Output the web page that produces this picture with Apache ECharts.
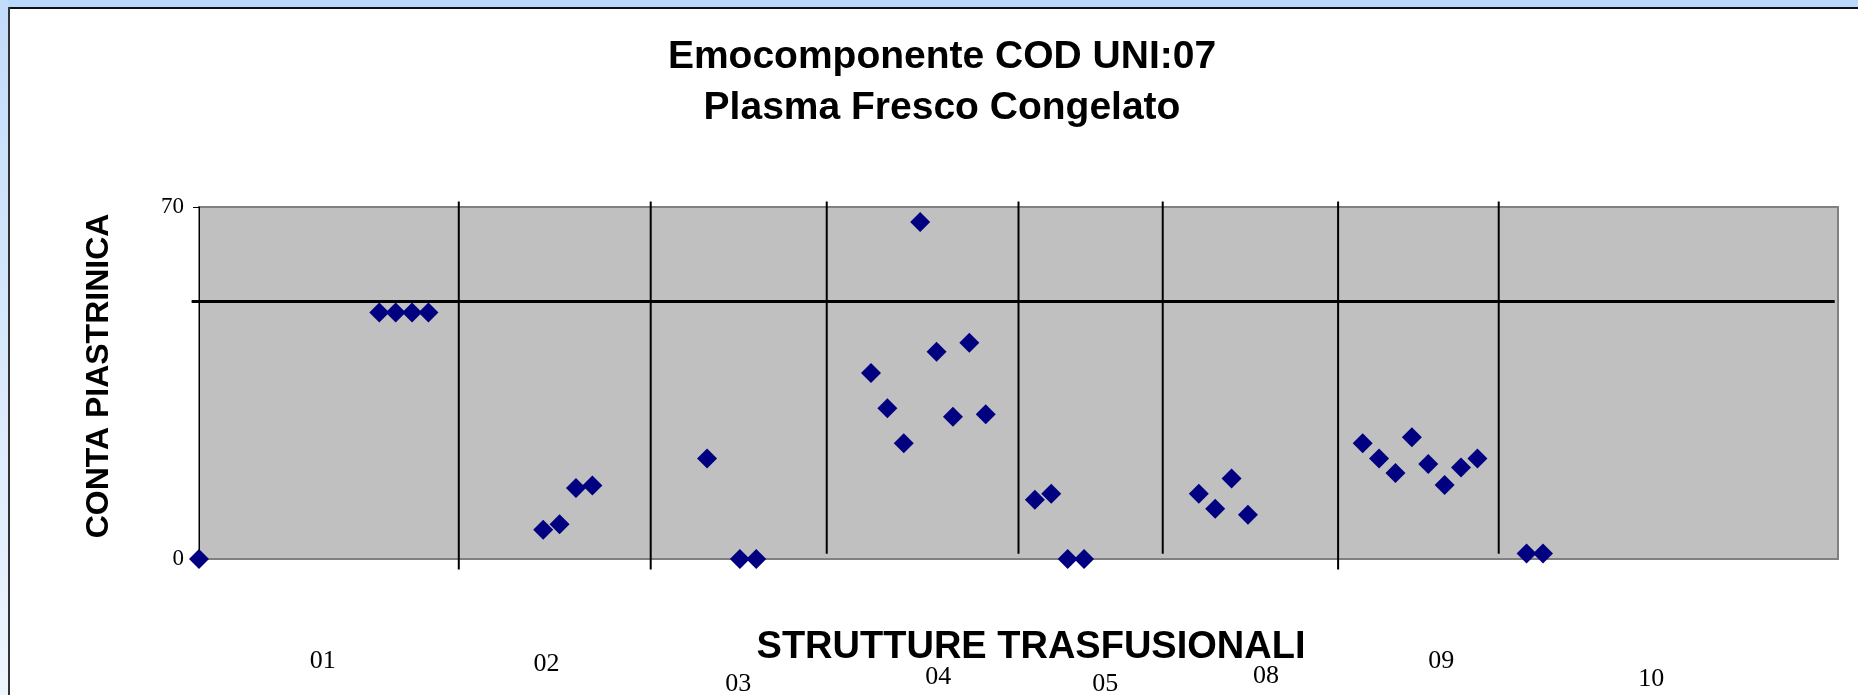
<!DOCTYPE html>
<html>
<head>
<meta charset="utf-8">
<script src="https://cdn.jsdelivr.net/npm/echarts@6/dist/echarts.min.js"></script>
<style>
  html, body { margin: 0; padding: 0; background: #fff; }
  #chart { width: 1858px; height: 695px; }
</style>
</head>
<body>
<div id="chart"></div>
<script>
// data
const groups = ['01', '02', '03', '04', '05', '08', '09', '10'];
const pointIndex = [0, 11, 12, 13, 14, 21, 22, 23, 24, 31, 33, 34,
  41, 42, 43, 44, 45, 46, 47, 48, 51, 52, 53, 54, 61, 62, 63, 64,
  71, 72, 73, 74, 75, 76, 77, 78, 81, 82];
const platelets = [0, 49, 49, 49, 49, 5.8, 6.9, 14.1, 14.6, 20, 0, 0,
  37, 30, 23, 67, 41.2, 28.3, 43, 28.8, 11.8, 13, 0, 0, 13, 10, 16, 8.8,
  23, 20, 17.1, 24.2, 18.9, 14.7, 18.2, 20, 1.1, 1.1];
const yTicks = [0, 70];
const threshold = 51.2;
// group separators: x (point index), from, to (value units)
const separators = [[15.85, -2.1, 71.1], [27.56, -2.1, 71.1], [38.3, 1.05, 71.1],
  [50.0, 1.05, 71.1], [58.8, 1.05, 71.1], [69.5, -2.1, 71.1], [79.3, 1.05, 71.1]];

// where the group names sit under the plot (x index, y value units)
const labelAnchor = [[7.55, -20.3], [21.2, -20.9], [32.9, -24.8], [45.1, -23.5],
  [55.3, -24.8], [65.1, -23.3], [75.8, -20.4], [88.6, -23.9]];

var myChart = echarts.init(document.getElementById('chart'));

var option = {
  animation: false,
  backgroundColor: '#fff',
  grid: {
    left: 199, top: 207, width: 1639, height: 352,
    show: true,
    backgroundColor: '#C0C0C0',
    borderColor: '#808080',
    borderWidth: 2
  },
  xAxis: {
    type: 'value', min: 0, max: 100,
    axisLine: { show: false },
    axisTick: { show: false },
    axisLabel: { show: false },
    splitLine: { show: false }
  },
  yAxis: {
    type: 'value',
    min: yTicks[0], max: yTicks[1], interval: yTicks[1] - yTicks[0],
    axisLine: { show: true, lineStyle: { color: '#000', width: 1 } },
    axisTick: { show: true, length: 6, lineStyle: { color: '#000' } },
    splitLine: { show: false },
    axisLabel: {
      margin: 15,
      color: '#000',
      fontFamily: 'Liberation Serif',
      fontSize: 23
    }
  },
  series: [
    {
      // vertical separators between the structures
      type: 'custom',
      z: 3,
      silent: true,
      clip: false,
      data: separators,
      renderItem: function (params, api) {
        var a = api.coord([api.value(0), api.value(1)]);
        var b = api.coord([api.value(0), api.value(2)]);
        return {
          type: 'line',
          shape: { x1: a[0], y1: a[1], x2: b[0], y2: b[1] },
          style: { stroke: '#000', lineWidth: 2 }
        };
      }
    },
    {
      // reference line
      type: 'custom',
      z: 3,
      silent: true,
      clip: false,
      data: [[-0.45, 99.8, threshold]],
      renderItem: function (params, api) {
        var a = api.coord([api.value(0), api.value(2)]);
        var b = api.coord([api.value(1), api.value(2)]);
        return {
          type: 'line',
          shape: { x1: a[0], y1: a[1], x2: b[0], y2: b[1] },
          style: { stroke: '#000', lineWidth: 3 }
        };
      }
    },
    {
      type: 'scatter',
      z: 5,
      clip: false,
      symbol: 'diamond',
      symbolSize: 20,
      itemStyle: { color: '#000080', opacity: 1 },
      data: pointIndex.map((x, i) => [x, platelets[i]])
    }
  ]
};
myChart.setOption(option);

// frame, titles and group names
var graphics = [
  { type: 'rect', shape: { x: 0, y: 0, width: 1858, height: 7 }, style: { fill: '#B9DAFD' }, z: 10 },
  {
    type: 'rect', shape: { x: 0, y: 0, width: 8, height: 695 }, z: 10,
    style: {
      fill: new echarts.graphic.LinearGradient(0, 0, 0, 1, [
        { offset: 0, color: '#C3DCFA' },
        { offset: 1, color: '#EEF5FD' }
      ])
    }
  },
  { type: 'rect', shape: { x: 8, y: 7, width: 1850, height: 2 }, style: { fill: '#111' }, z: 11 },
  { type: 'rect', shape: { x: 8, y: 7, width: 2, height: 688 }, style: { fill: '#333' }, z: 11 },
  {
    type: 'text', x: 942, y: 57, z: 12,
    style: { text: 'Emocomponente COD UNI:07', fontFamily: 'Liberation Sans', fontWeight: 'bold', fontSize: 39, fill: '#000', align: 'center', verticalAlign: 'middle' }
  },
  {
    type: 'text', x: 942, y: 108, z: 12,
    style: { text: 'Plasma Fresco Congelato', fontFamily: 'Liberation Sans', fontWeight: 'bold', fontSize: 39, fill: '#000', align: 'center', verticalAlign: 'middle' }
  },
  {
    type: 'text', x: 99, y: 376, rotation: Math.PI / 2, z: 12,
    style: { text: 'CONTA PIASTRINICA', fontFamily: 'Liberation Sans', fontWeight: 'bold', fontSize: 32, fill: '#000', align: 'center', verticalAlign: 'middle' }
  },
  {
    type: 'text', x: 1031, y: 648, z: 12,
    style: { text: 'STRUTTURE TRASFUSIONALI', fontFamily: 'Liberation Sans', fontWeight: 'bold', fontSize: 38, fill: '#000', align: 'center', verticalAlign: 'middle' }
  }
];
groups.forEach((g, i) => {
  let p = myChart.convertToPixel({ gridIndex: 0 }, labelAnchor[i]);
  graphics.push({
    type: 'text', x: p[0], y: p[1], z: 12,
    style: { text: g, fontFamily: 'Liberation Serif', fontSize: 26, fill: '#000', align: 'center', verticalAlign: 'middle' }
  });
});
myChart.setOption({ graphic: graphics });
</script>
</body>
</html>
